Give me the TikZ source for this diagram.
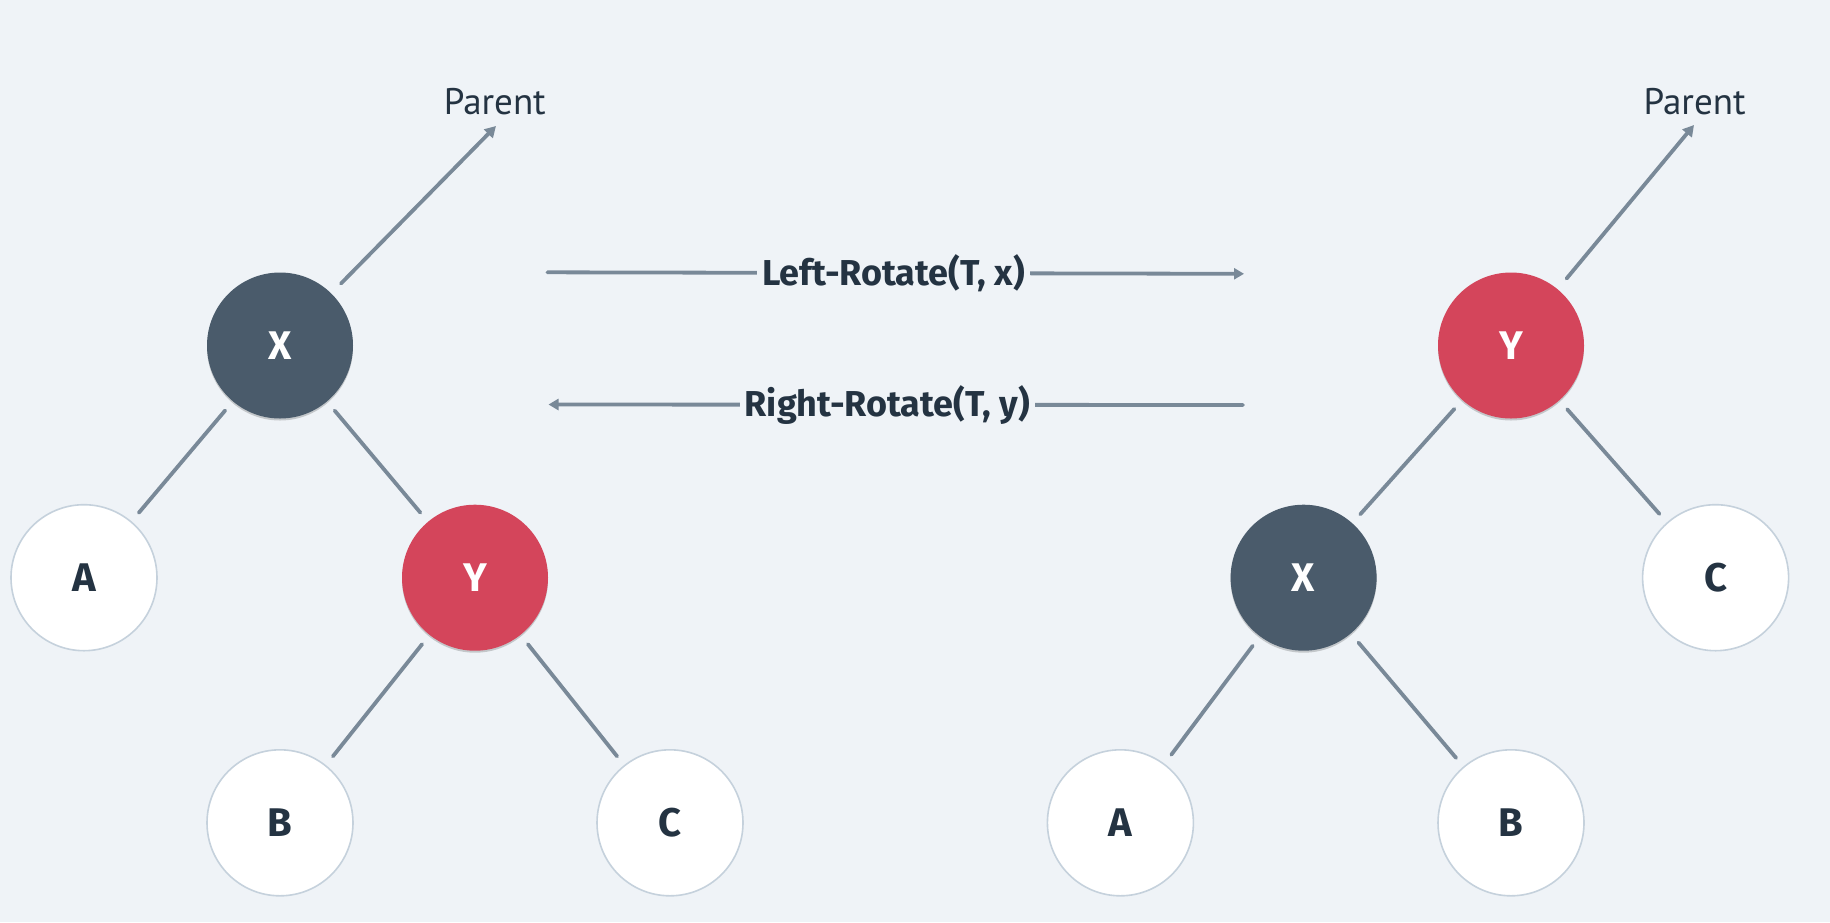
\documentclass[tikz,border=0pt]{standalone}
\usepackage{fontspec}
\setmainfont{PT Sans}
\newfontfamily\lblfont{Fira Sans}
\usetikzlibrary{arrows.meta,shadows}
\definecolor{bg}{HTML}{EFF3F7}
\definecolor{darknode}{HTML}{4A5B6B}
\definecolor{rednode}{HTML}{D4455B}
\definecolor{ringcol}{HTML}{C5D1DC}
\definecolor{linecol}{HTML}{798998}
\definecolor{txtcol}{HTML}{243342}
\tikzset{
  treenode/.style={circle, minimum size=146pt, inner sep=0pt, outer sep=0pt,
    font=\lblfont\fontsize{40}{44}\selectfont\bfseries},
  darkn/.style={treenode, fill=darknode, text=white,
    drop shadow={shadow xshift=0pt, shadow yshift=-2pt, opacity=0.18, fill=black}},
  redn/.style={treenode, fill=rednode, text=white,
    drop shadow={shadow xshift=0pt, shadow yshift=-2pt, opacity=0.18, fill=black}},
  leafn/.style={treenode, fill=white, draw=ringcol, line width=1.6pt, text=txtcol},
  edge/.style={draw=linecol, line width=3.8pt, line cap=round, shorten <=12pt, shorten >=12pt},
  parentarrow/.style={draw=linecol, line width=3.8pt, line cap=round, shorten <=14pt,
    -{Triangle[length=11pt,width=12pt]}},
  rotarrow/.style={draw=linecol, line width=3.8pt, line cap=round,
    -{Triangle[length=10pt,width=11pt]}},
  parentlbl/.style={text=txtcol, font=\fontsize{37}{40}\selectfont, inner sep=0pt},
  rotlbl/.style={fill=bg, text=txtcol, font=\lblfont\fontsize{36}{40}\selectfont\bfseries, inner sep=5pt},
}
\begin{document}
\begin{tikzpicture}[x=1pt,y=-1pt]
\fill[bg] (0,0) rectangle (1830,922);
\useasboundingbox (0,0) rectangle (1830,922);
% left tree
\node[darkn] (lx) at (280,345.5) {X};
\node[leafn] (la) at (84,577.7) {A};
\node[redn]  (ly) at (475,577.7) {Y};
\node[leafn] (lb) at (280,822.8) {B};
\node[leafn] (lc) at (670,822.8) {C};
\node[parentlbl] (lp) at (494.8,102) {Parent};
\coordinate (lptip) at (496,126);
\draw[edge] (lx) -- (la);
\draw[edge] (lx) -- (ly);
\draw[edge] (ly) -- (lb);
\draw[edge] (ly) -- (lc);
\draw[parentarrow] (lx) -- (lptip);
% middle arrows
\coordinate (l1s) at (547.4,272.3);
\coordinate (l1e) at (1244,273.8);
\draw[rotarrow] (l1s) -- node[rotlbl, pos=0.497] (lrl) {Left-Rotate(T, x)} (l1e);
\coordinate (r1s) at (1243,405);
\coordinate (r1e) at (548.5,404.5);
\draw[rotarrow] (r1s) -- node[rotlbl, pos=0.512] (rrl) {Right-Rotate(T, y)} (r1e);
% right tree
\node[redn]  (ry) at (1511,345.5) {Y};
\node[darkn] (rx) at (1303.6,577.7) {X};
\node[leafn] (rc) at (1715.6,577.7) {C};
\node[leafn] (ra) at (1120.4,822.8) {A};
\node[leafn] (rb) at (1511,822.8) {B};
\node[parentlbl] (rp) at (1694.6,102) {Parent};
\coordinate (rptip) at (1694,125);
\draw[edge] (ry) -- (rx);
\draw[edge] (ry) -- (rc);
\draw[edge] (rx) -- (ra);
\draw[edge] (rx) -- (rb);
\draw[parentarrow] (ry) -- (rptip);
\end{tikzpicture}
\end{document}
